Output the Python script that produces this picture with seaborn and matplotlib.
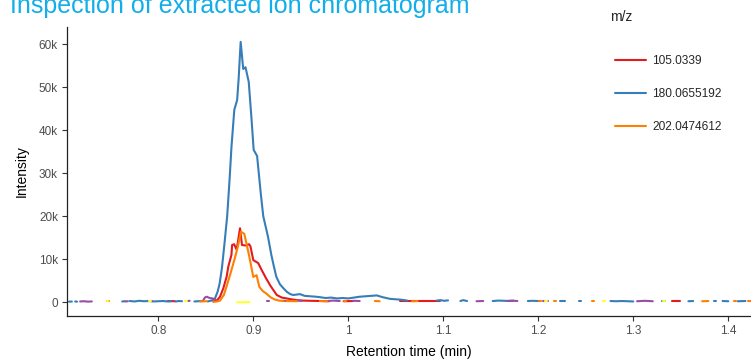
import numpy as np
import pandas as pd
import matplotlib
matplotlib.use('Agg')
import matplotlib.pyplot as plt
import matplotlib.ticker as mticker
from matplotlib.lines import Line2D
import seaborn as sns

sns.set_style("white")
plt.rcParams['font.family'] = ['Liberation Sans', 'DejaVu Sans']

nan = np.nan

# ── Data: retention time (min) and intensity per m/z trace (NaN = gap) ──
rt_105 = [0.810, 0.8175, nan,
          0.858, 0.862, 0.865, 0.8685, 0.872, 0.8737, 0.877, 0.8777, 0.8798, 0.8825,
          0.886, 0.8881, 0.892, 0.8955, 0.897, 0.900, 0.9052, 0.9088, 0.9134, 0.9176,
          0.920, 0.9247, 0.930, 0.9352, 0.940, 0.946, 0.952, 0.960, 0.970, 0.980, nan,
          0.995, 1.005, nan,
          1.054, 1.070, 1.085, 1.097, nan,
          1.341, 1.3495]
int_105 = [300, 250, nan,
           200, 500, 1300, 3300, 6000, 8300, 11000, 13300, 13500, 12200,
           17200, 13300, 13200, 13500, 13000, 9800, 9100, 7500, 5600, 4000,
           3200, 1700, 1100, 900, 700, 500, 400, 350, 300, 250, nan,
           250, 300, nan,
           200, 200, 200, 200, nan,
           200, 200]

rt_180 = [0.706, 0.709, nan,
          0.7125, 0.7145, nan,
          0.762, 0.765, nan,
          0.770, 0.775, 0.780, 0.785, 0.790, 0.795, 0.800, 0.805, 0.810, 0.8135, nan,
          0.818, 0.822, 0.825, nan,
          0.838, 0.842, 0.847, nan,
          0.852, 0.856, 0.8597, 0.8625, 0.8646, 0.867, 0.8697, 0.8725, 0.875, 0.877,
          0.880, 0.883, 0.8846, 0.8867, 0.8894, 0.8918, 0.8952, 0.898, 0.9004, 0.904,
          0.908, 0.9105, 0.9155, 0.919, 0.922, 0.9243, 0.928, 0.932, 0.9355, 0.939,
          0.942, 0.9492, 0.954, 0.960, 0.966, 0.970, 0.976, 0.982, 0.988, 0.994,
          1.000, 1.006, 1.012, 1.018, 1.024, 1.030, 1.036, 1.044, 1.050, 1.056, 1.062, nan,
          1.093, 1.097, 1.101, 1.105, nan,
          1.118, 1.121, 1.125, nan,
          1.152, 1.158, 1.164, 1.170, 1.174, nan,
          1.189, 1.194, 1.200, nan,
          1.223, 1.228, nan,
          1.243, 1.245, nan,
          1.276, 1.282, 1.288, 1.294, 1.300, nan,
          1.330, 1.333, nan,
          1.358, 1.363, nan,
          1.385, 1.387, nan,
          1.394, 1.400, nan,
          1.410, 1.418]
int_180 = [150, 180, nan,
           200, 150, nan,
           200, 250, nan,
           300, 200, 350, 250, 300, 200, 250, 300, 200, 250, nan,
           200, 300, 250, nan,
           200, 250, 300, nan,
           200, 400, 900, 2500, 4400, 8000, 13700, 20000, 28400, 36000,
           44700, 47000, 52000, 60500, 54200, 54600, 51200, 43000, 35400, 34000,
           25000, 20000, 15200, 11000, 8000, 5900, 4200, 3200, 2400, 1900,
           1700, 1900, 1500, 1400, 1300, 1200, 1000, 1100, 900, 1000,
           900, 1100, 1300, 1400, 1500, 1600, 1200, 800, 700, 600, 400, nan,
           400, 500, 350, 450, nan,
           300, 500, 300, nan,
           300, 400, 350, 300, 350, nan,
           300, 350, 300, nan,
           300, 300, nan,
           250, 250, nan,
           300, 250, 300, 250, 200, nan,
           250, 250, nan,
           250, 300, nan,
           200, 200, nan,
           300, 250, nan,
           250, 300]

rt_unk1 = [0.7177, 0.722, 0.726, 0.730, nan,
           0.7655, 0.768, nan,
           0.790, 0.793, nan,
           0.831, 0.833, nan,
           0.847, 0.849, 0.851, 0.854, 0.857, 0.860, nan,
           0.914, 0.917, nan,
           0.931, 0.936, 0.942, nan,
           0.946, 0.951, nan,
           0.978, 0.984, 0.991, nan,
           1.005, 1.012, nan,
           1.135, 1.142, nan,
           1.167, 1.172, 1.178, nan,
           1.205, 1.210, nan,
           1.304, 1.312, 1.3205]
int_unk1 = [200, 250, 150, 200, nan,
            200, 250, nan,
            300, 300, nan,
            300, 350, nan,
            300, 1100, 1300, 1000, 900, 700, nan,
            300, 300, nan,
            350, 300, 350, nan,
            400, 350, nan,
            300, 400, 300, nan,
            350, 300, nan,
            250, 300, nan,
            300, 400, 300, nan,
            300, 300, nan,
            250, 350, 250]

rt_202 = [0.746, 0.748, nan,
          0.844, 0.851, nan,
          0.858, 0.862, 0.865, 0.869, 0.872, 0.876, 0.880, 0.8837, 0.887, 0.8905,
          0.8935, 0.8958, 0.900, 0.9035, 0.9063, 0.910, 0.9134, 0.918, 0.9221, 0.927,
          0.932, nan,
          0.935, 0.946, nan,
          0.970, 0.978, nan,
          0.995, 0.998, nan,
          1.028, 1.033, nan,
          1.067, 1.073, nan,
          1.201, 1.203, nan,
          1.2165, 1.2185, nan,
          1.2565, 1.2585, nan,
          1.3725, 1.379, nan,
          1.406, 1.408, nan,
          1.421, 1.424]
int_202 = [250, 250, nan,
           200, 250, nan,
           100, 200, 400, 1700, 3800, 6700, 9800, 12900, 16400, 15900,
           13000, 10600, 5900, 6300, 3600, 2600, 2100, 1200, 700, 400,
           300, nan,
           300, 250, nan,
           300, 250, nan,
           300, 300, nan,
           300, 250, nan,
           250, 300, nan,
           250, 250, nan,
           250, 250, nan,
           250, 250, nan,
           250, 300, nan,
           250, 250, nan,
           250, 250]

rt_unk2 = [0.746, 0.7475, nan,
           0.790, 0.792, nan,
           0.828, 0.830, nan,
           0.883, 0.889, 0.896, nan,
           1.207, 1.209, nan,
           1.2685, 1.270, nan,
           1.331, 1.333]
int_unk2 = [200, 200, nan,
            300, 300, nan,
            250, 250, nan,
            0, 0, 50, nan,
            200, 200, nan,
            250, 250, nan,
            200, 200]

series = [('105.0339', rt_105, int_105, '#E41A1C'),
          ('180.0655192', rt_180, int_180, '#377EB8'),
          ('unk1', rt_unk1, int_unk1, '#984EA3'),
          ('202.0474612', rt_202, int_202, '#FF7F00'),
          ('unk2', rt_unk2, int_unk2, '#FFFF33')]
legend_mz = ['105.0339', '180.0655192', '202.0474612']

# build long table, one unit per unbroken segment
rows = []
seg = 0
for mz, rts, ints, _ in series:
    for r, v in zip(rts, ints):
        if np.isnan(r):
            seg += 1
            continue
        rows.append({'rt': r, 'intensity': v, 'mz': mz, 'seg': seg})
    seg += 1
df = pd.DataFrame(rows)
palette = {mz: c for mz, _, _, c in series}

fig = plt.figure(figsize=(7.51, 3.61), dpi=100)
ax = fig.add_axes([67/751, 1 - 316/361, 1 - 67/751, (316 - 27)/361])

sns.lineplot(data=df, x='rt', y='intensity', hue='mz', units='seg',
             estimator=None, sort=False, palette=palette,
             hue_order=[s[0] for s in series], linewidth=1.5,
             legend=False, ax=ax)

ax.set_xlim(0.7039, 1.4239)
ax.set_ylim(-3180, 63950)
ax.set_xticks([0.8, 0.9, 1.0, 1.1, 1.2, 1.3, 1.4])
ax.xaxis.set_major_formatter(mticker.FuncFormatter(lambda v, p: f'{v:g}'))
ax.set_yticks(np.arange(0, 60001, 10000))
ax.yaxis.set_major_formatter(mticker.FuncFormatter(
    lambda v, p: '0' if v == 0 else f'{int(v / 1000)}k'))

for s in ['top', 'right']:
    ax.spines[s].set_visible(False)
for s in ['left', 'bottom']:
    ax.spines[s].set_color('#222222')
    ax.spines[s].set_linewidth(0.9)
ax.tick_params(axis='both', direction='out', length=3.5, width=0.8,
               bottom=True, left=True, pad=3,
               color='#333333', labelcolor='#4D4D4D', labelsize=8.5)
ax.set_xlabel('Retention time (min)', fontsize=10, color='black', labelpad=6)
ax.set_ylabel('Intensity', fontsize=10, color='black', labelpad=7)

fig.text(10/751, 1 - 13.5/361, 'Inspection of extracted ion chromatogram',
         fontsize=18, color='#12AEEA', va='baseline', ha='left')

handles = [Line2D([0], [0], color=palette[m], lw=1.5) for m in legend_mz]
fig.text(610/751, 1 - 17/361, 'm/z', fontsize=10, va='center', ha='left')
fig.legend(handles, legend_mz, loc='upper left',
           bbox_to_anchor=(615/751, 1 - 55/361), frameon=False,
           fontsize=8.6, handlelength=2.6, handletextpad=0.5,
           labelspacing=1.75, borderpad=0, borderaxespad=0)

fig.savefig('out.png', dpi=100)
